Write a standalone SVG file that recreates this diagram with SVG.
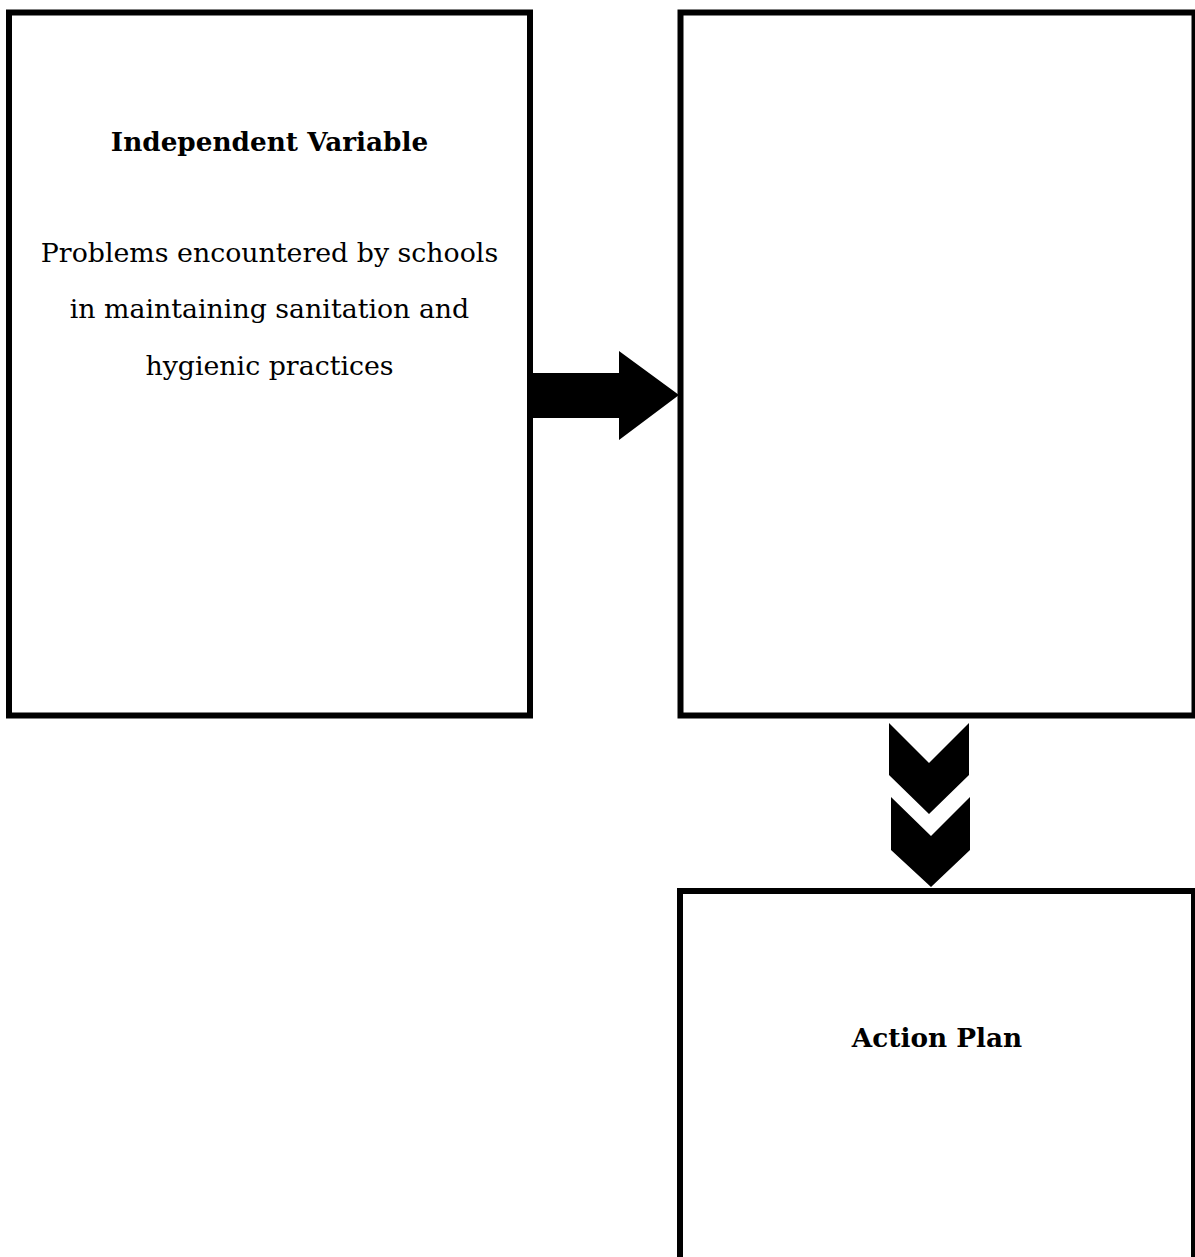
<svg xmlns="http://www.w3.org/2000/svg" width="1195" height="1257" viewBox="0 0 1195 1257">
<style>
.box{fill:#fff;stroke:#000;stroke-width:6}
.t{font-family:"DejaVu Serif","Liberation Serif",serif;font-size:26.8px;fill:#000;text-anchor:middle}
.b{font-weight:bold;font-size:26.3px}
</style>
<rect width="1195" height="1257" fill="#fff"/>
<g id="connectors">
<polygon points="533,373 619,373 619,351 679,395 619,440 619,418 533,418" fill="#000"/>
<polygon points="889,723 929,763 969,723 969,775 929,814 889,775" fill="#000"/>
<polygon points="891,797 931,836 970,797 970,850 931,887 891,850" fill="#000"/>
</g>
<g id="independent">
<rect class="box" x="9" y="12.5" width="521" height="703"/>
<text class="t b" x="269.5" y="151">Independent Variable</text>
<text class="t" x="269.5" y="262">Problems encountered by schools</text>
<text class="t" x="269.5" y="318">in maintaining sanitation and</text>
<text class="t" x="269.5" y="375">hygienic practices</text>
</g>
<g id="dependent">
<rect class="box" x="680.5" y="12.5" width="514" height="703"/>
</g>
<g id="action">
<rect class="box" x="680" y="891" width="514" height="400"/>
<text class="t b" x="937" y="1047">Action Plan</text>
</g>
</svg>
